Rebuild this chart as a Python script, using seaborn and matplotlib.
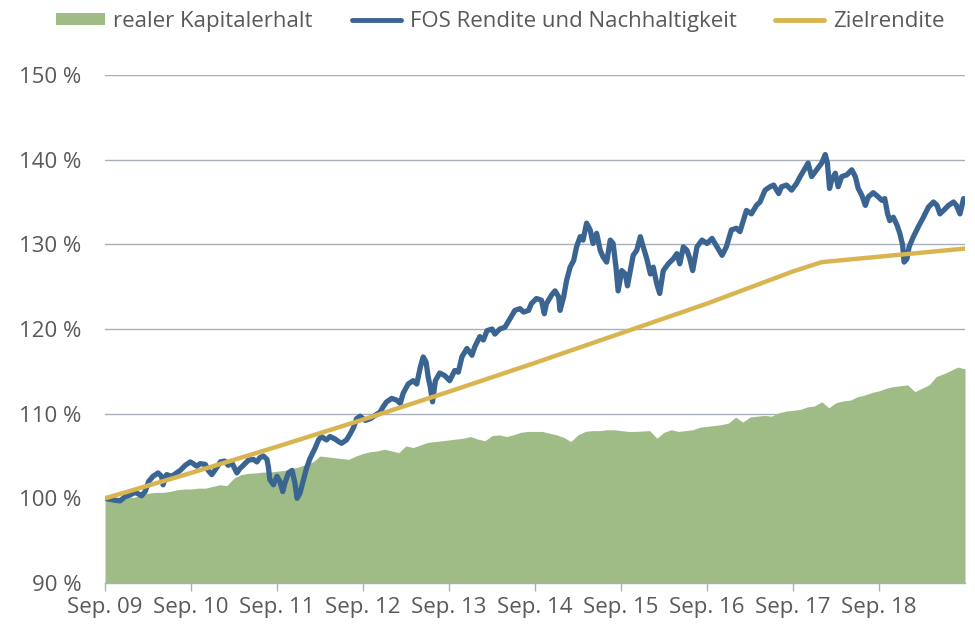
import matplotlib
matplotlib.use("Agg")
import matplotlib.pyplot as plt
import seaborn as sns
from matplotlib.patches import Patch
from matplotlib.lines import Line2D

# ---------------- data ----------------
# x values are months since Sep. 2009
x_tick_months = [0, 12, 24, 36, 48, 60, 72, 84, 96, 108]
x_tick_labels = ["Sep. 09", "Sep. 10", "Sep. 11", "Sep. 12", "Sep. 13",
                 "Sep. 14", "Sep. 15", "Sep. 16", "Sep. 17", "Sep. 18"]
y_ticks = [90, 100, 110, 120, 130, 140, 150]

# realer Kapitalerhalt (monthly, m0..m120)
green_value = [
    99.8, 99.9, 99.9, 100.0, 100.1, 100.4, 100.6, 100.7, 100.7, 100.8,
    101.0, 101.1, 101.1, 101.2, 101.2, 101.4, 101.6, 101.5, 102.4, 102.8,
    102.95, 103.0, 103.1, 103.1, 103.2, 103.3, 103.5, 103.7, 104.0, 104.3,
    105.0, 104.9, 104.8, 104.7, 104.6, 105.0, 105.3, 105.5, 105.6, 105.8,
    105.6, 105.4, 106.2, 106.0, 106.3, 106.6, 106.7, 106.8, 106.9, 107.0,
    107.1, 107.3, 107.0, 106.8, 107.4, 107.5, 107.3, 107.5, 107.8, 107.9,
    107.9, 107.9, 107.7, 107.5, 107.2, 106.7, 107.5, 107.9, 108.0, 108.0,
    108.1, 108.1, 108.0, 107.9, 107.9, 107.95, 108.0, 107.1, 107.8, 108.1,
    107.9, 108.0, 108.1, 108.4, 108.5, 108.6, 108.7, 108.9, 109.6, 109.0,
    109.6, 109.7, 109.8, 109.7, 110.1, 110.3, 110.4, 110.5, 110.8, 110.9,
    111.4, 110.7, 111.3, 111.5, 111.6, 112.0, 112.2, 112.5, 112.7, 113.0,
    113.2, 113.3, 113.4, 112.6, 113.0, 113.4, 114.4, 114.7, 115.1, 115.5,
    115.3,
]
green_month = list(range(len(green_value)))

# FOS Rendite und Nachhaltigkeit
fos_month = [
    0.0, 1.2, 2.1, 2.8, 3.5, 4.2, 4.7, 5.1, 5.6, 6.1,
    6.7, 7.4, 7.9, 8.1, 8.6, 9.3, 10.0, 10.5, 11.2, 11.9,
    12.3, 12.8, 13.3, 14.0, 14.4, 14.9, 15.4, 16.1, 16.7, 17.2,
    17.7, 18.4, 18.8, 19.3, 20.0, 20.7, 21.2, 21.6, 22.1, 22.6,
    22.8, 23.0, 23.5, 24.0, 24.4, 24.8, 25.1, 25.6, 26.1, 26.5,
    26.8, 27.2, 27.7, 28.1, 28.6, 29.3, 29.8, 30.2, 30.9,
    31.4, 32.1, 32.6, 33.0, 33.7, 34.2, 34.7, 35.1, 35.6, 36.3,
    37.0, 37.7, 38.4, 38.8, 39.3, 40.0, 40.7, 41.2, 41.6, 42.3,
    43.0, 43.5, 44.0, 44.4, 44.8, 45.1, 45.4, 45.7, 46.1, 46.7,
    47.4, 48.1, 48.8, 49.3, 49.8, 50.5, 51.2, 51.6, 52.3, 52.8,
    53.3, 54.0, 54.4, 55.1, 55.8, 56.5, 57.2, 57.9, 58.4, 59.1,
    59.5, 60.2, 60.9, 61.3, 61.6,
    62.3, 62.8, 63.3, 63.5, 64.0, 64.4, 64.9, 65.4, 65.8, 66.3,
    66.7, 67.2, 67.7, 68.1, 68.6, 69.1, 69.5, 70.0, 70.5, 70.9,
    71.3, 71.6, 72.1, 72.6, 72.9, 73.3, 73.7, 74.2, 74.7, 75.1,
    75.6, 76.1, 76.5, 77.0, 77.4, 77.9, 78.6, 79.3, 79.8, 80.2,
    80.7, 81.2, 81.6, 82.0, 82.6, 83.3, 84.0, 84.7, 85.4, 86.1,
    86.7, 87.4, 88.1, 88.6, 89.1, 89.5, 90.2, 90.9, 91.4,
    92.1, 92.8, 93.3, 94.0, 94.4, 95.1, 95.8, 96.5, 97.0, 97.7,
    98.1, 98.6, 99.3, 100.0, 100.5, 100.8, 101.1, 101.4, 101.9, 102.3,
    102.8, 103.5, 104.2, 104.7, 105.1, 105.6, 106.1, 106.5, 107.2, 107.9,
    108.4, 108.8, 109.2, 109.5, 110.0, 110.5, 110.9, 111.3, 111.5, 111.9,
    112.2, 112.8, 113.5, 114.2, 114.9, 115.6, 116.1, 116.5, 117.0, 117.7,
    118.4, 118.8, 119.3, 119.8,
]
fos_value = [
    100.0, 99.8, 99.7, 100.2, 100.4, 100.7, 100.5, 100.3, 100.8, 102.0,
    102.6, 103.0, 102.6, 101.6, 102.8, 102.6, 103.0, 103.3, 103.9, 104.3,
    104.1, 103.8, 104.1, 104.0, 103.3, 102.8, 103.4, 104.3, 104.4, 103.9,
    104.2, 103.0, 103.5, 103.9, 104.5, 104.6, 104.3, 104.8, 105.0, 104.6,
    103.7, 102.2, 101.6, 102.6, 102.0, 100.8, 101.8, 103.0, 103.3, 101.8,
    100.0, 100.6, 102.2, 103.5, 104.7, 105.9, 106.9, 107.3, 106.9,
    107.3, 107.0, 106.7, 106.5, 106.9, 107.6, 108.4, 109.4, 109.7, 109.2,
    109.4, 109.8, 110.2, 110.8, 111.4, 111.8, 111.6, 111.2, 112.4, 113.5,
    113.9, 113.5, 115.5, 116.7, 116.1, 114.3, 113.1, 111.4, 113.9, 114.8,
    114.5, 113.9, 115.1, 114.9, 116.7, 117.7, 116.9, 117.9, 119.1, 118.7,
    119.8, 120.0, 119.4, 120.0, 120.2, 121.2, 122.2, 122.4, 122.0, 122.2,
    123.0, 123.6, 123.4, 121.8, 123.0,
    124.0, 124.5, 123.8, 122.2, 123.8, 125.7, 127.3, 128.1, 129.7, 130.9,
    130.5, 132.5, 131.7, 130.1, 131.3, 129.3, 128.5, 127.9, 130.5, 130.1,
    127.3, 124.5, 126.9, 126.5, 125.1, 126.9, 128.7, 129.3, 130.9, 129.7,
    128.3, 126.5, 127.3, 125.3, 124.2, 126.9, 127.7, 128.3, 128.9, 127.7,
    129.7, 129.3, 128.3, 126.9, 129.7, 130.5, 130.1, 130.7, 129.7, 128.7,
    129.7, 131.7, 131.9, 131.5, 132.9, 134.0, 133.6, 134.6, 135.0,
    136.4, 136.8, 137.0, 136.0, 136.8, 137.0, 136.4, 137.2, 138.0, 139.0,
    139.6, 138.0, 138.8, 139.6, 140.6, 139.6, 136.6, 137.6, 138.4, 136.8,
    138.0, 138.2, 138.8, 138.0, 136.6, 135.8, 134.6, 135.6, 136.1, 135.6,
    135.2, 135.4, 133.6, 132.8, 133.2, 132.3, 131.3, 129.9, 127.9, 128.3,
    129.7, 130.9, 132.1, 133.2, 134.4, 135.0, 134.6, 133.6, 134.0, 134.6,
    135.0, 134.6, 133.6, 135.4,
]

# Zielrendite
ziel_month = [0, 12, 24, 36, 48, 60, 72, 84, 96, 100, 120]
ziel_value = [100.0, 103.0, 106.1, 109.3, 112.6, 116.0, 119.5, 123.0, 126.8, 127.9, 129.5]

labels = ["realer Kapitalerhalt", "FOS Rendite und Nachhaltigkeit", "Zielrendite"]

# ---------------- style ----------------
GREEN = "#A0BC86"
BLUE = "#3A6491"
GOLD = "#D9B551"
GRID = "#A9B0B8"
TEXT = "#595959"

sns.set_theme(style="white")
plt.rcParams["font.family"] = ["Open Sans", "DejaVu Sans"]

fig = plt.figure(figsize=(9.75, 6.25), dpi=100)
ax = fig.add_axes([105 / 975, 1 - 583 / 625, 860 / 975, 508 / 625])

ax.fill_between(green_month, 90, green_value, color=GREEN, lw=0, zorder=1)
sns.lineplot(x=fos_month, y=fos_value, ax=ax, color=BLUE, lw=3.8,
             estimator=None, sort=False, zorder=3)
sns.lineplot(x=ziel_month, y=ziel_value, ax=ax, color=GOLD, lw=3.2,
             estimator=None, sort=False, zorder=4)

ax.set_xlim(0, 120)
ax.set_ylim(90, 150)
ax.set_xticks(x_tick_months)
ax.set_xticklabels(x_tick_labels)
ax.set_yticks(y_ticks)
ax.set_yticklabels([f"{v} %" for v in y_ticks])
ax.set_xlabel("")
ax.set_ylabel("")

ax.yaxis.grid(True, color=GRID, lw=1.0)
ax.xaxis.grid(False)
ax.set_axisbelow(True)

for s in ["top", "right", "left"]:
    ax.spines[s].set_visible(False)
ax.spines["bottom"].set_color(GRID)
ax.spines["bottom"].set_linewidth(1.0)
ax.spines["bottom"].set_zorder(5)

ax.tick_params(axis="x", length=6, width=1, color=GRID, direction="out",
               labelsize=16, labelcolor=TEXT, pad=4, bottom=True)
ax.tick_params(axis="y", length=0, labelsize=16, labelcolor=TEXT, pad=17, left=False)

handles = [Patch(facecolor=GREEN, edgecolor="none"),
           Line2D([], [], color=BLUE, lw=3.5),
           Line2D([], [], color=GOLD, lw=3.5)]
fig.legend(handles, labels, loc="center", bbox_to_anchor=(0.513, 0.966),
           ncol=3, frameon=False, fontsize=16, handlelength=2.2,
           handleheight=0.5, handletextpad=0.4, columnspacing=1.75,
           labelcolor=TEXT)

fig.savefig("out.png", dpi=100)
